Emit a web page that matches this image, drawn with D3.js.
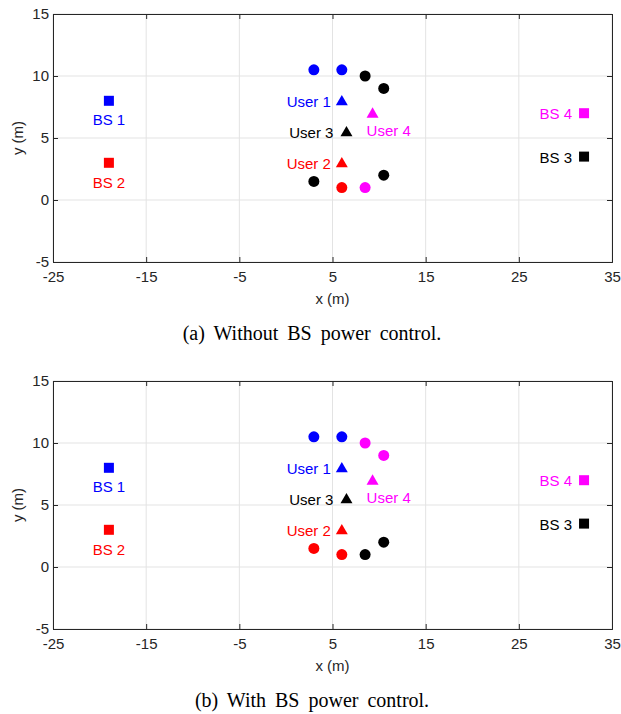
<!DOCTYPE html>
<html><head><meta charset="utf-8">
<script src="https://cdn.jsdelivr.net/npm/d3@7"></script>
<style>body{margin:0;background:#fff}</style>
</head><body>
<svg id="c" width="621" height="714"></svg>
<script>
const xTicks = [-25, -15, -5, 5, 15, 25, 35];
const yTicks = [-5, 0, 5, 10, 15];
const captions = ["(a) Without BS power control.", "(b) With BS power control."];
const colors = {blue: "#0000ff", red: "#ff0000", black: "#000000", magenta: "#ff00ff"};

// Base stations
const bsNames = ["BS 1", "BS 2", "BS 3", "BS 4"];
const bsX = [-19, -19, 32, 32];
const bsY = [8, 3, 3.5, 7];
const bsColor = ["blue", "red", "black", "magenta"];

// Users (triangles)
const userNames = ["User 1", "User 2", "User 3", "User 4"];
const userX = [6, 6, 6.5, 9.3];
const userY = [8, 3, 5.5, 7];
const userColor = ["blue", "red", "black", "magenta"];

// Circles
const apX = [3, 6, 8.5, 10.5, 3, 6, 8.5, 10.5];
const apY = [10.5, 10.5, 10, 9, 1.5, 1, 1, 2];
const apColorA = ["blue", "blue", "black", "black", "black", "red", "magenta", "black"];
const apColorB = ["blue", "blue", "magenta", "magenta", "red", "red", "black", "black"];

const svg = d3.select("#c");
const panels = [
  {top: 14, apColor: apColorA, caption: captions[0]},
  {top: 381, apColor: apColorB, caption: captions[1]}
];
const left = 53, right = 612, ph = 248;
const font = "Liberation Sans, Arial, sans-serif";

panels.forEach(p => {
  const x = d3.scaleLinear().domain([-25, 35]).range([left, right]);
  const y = d3.scaleLinear().domain([-5, 15]).range([p.top + ph, p.top]);
  const g = svg.append("g");
  g.selectAll(".gx").data(xTicks).join("line")
    .attr("x1", d => x(d)).attr("x2", d => x(d)).attr("y1", y(-5)).attr("y2", y(15))
    .attr("stroke", "#e3e3e3").attr("stroke-width", 1);
  g.selectAll(".gy").data(yTicks).join("line")
    .attr("y1", d => y(d)).attr("y2", d => y(d)).attr("x1", x(-25)).attr("x2", x(35))
    .attr("stroke", "#e3e3e3").attr("stroke-width", 1);
  const fmt = d => String(d);
  const ax = g.append("g").attr("transform", `translate(0,${y(-5)})`)
    .call(d3.axisBottom(x).tickValues(xTicks).tickSize(-5).tickPadding(9).tickFormat(fmt));
  const axT = g.append("g").attr("transform", `translate(0,${y(15)})`)
    .call(d3.axisTop(x).tickValues(xTicks).tickSize(-5).tickFormat(""));
  const ay = g.append("g").attr("transform", `translate(${x(-25)},0)`)
    .call(d3.axisLeft(y).tickValues(yTicks).tickSize(-5).tickPadding(4).tickFormat(fmt));
  const ayR = g.append("g").attr("transform", `translate(${x(35)},0)`)
    .call(d3.axisRight(y).tickValues(yTicks).tickSize(-5).tickFormat(""));
  [ax, axT, ay, ayR].forEach(a => {
    a.select(".domain").attr("stroke", "#262626").attr("stroke-width", 1);
    a.selectAll(".tick line").attr("stroke", "#262626");
    a.selectAll("text").attr("font-family", font)
      .attr("font-size", 15).attr("fill", "#262626");
  });
  ax.selectAll("text").attr("dy", "0.7em");
  ay.selectAll("text").attr("dy", "0.28em");
  g.append("text").attr("x", x(5)).attr("y", y(-5) + 42).attr("text-anchor", "middle")
    .attr("font-family", font).attr("font-size", 15).attr("fill", "#262626")
    .text("x (m)");
  g.append("text").attr("transform", `translate(${x(-25) - 30},${y(5)}) rotate(-90)`)
    .attr("text-anchor", "middle")
    .attr("font-family", font).attr("font-size", 15).attr("fill", "#262626")
    .text("y (m)");
  g.append("text").attr("x", 312).attr("y", y(-5) + 78).attr("text-anchor", "middle")
    .attr("font-family", "Liberation Serif, Times New Roman, serif").attr("font-size", 20)
    .attr("word-spacing", 4).attr("fill", "#000")
    .text(p.caption);

  g.selectAll(".ap").data(apX.map((v, i) => i)).join("circle")
    .attr("cx", i => x(apX[i])).attr("cy", i => y(apY[i])).attr("r", 5.5)
    .attr("fill", i => colors[p.apColor[i]]);
  const sq = 10;
  g.selectAll(".bs").data(bsX.map((v, i) => i)).join("rect")
    .attr("x", i => x(bsX[i]) - sq / 2).attr("y", i => y(bsY[i]) - sq / 2)
    .attr("width", sq).attr("height", sq)
    .attr("fill", i => colors[bsColor[i]]);
  const tri = d3.symbol().type(d3.symbolTriangle).size(62);
  g.selectAll(".us").data(userX.map((v, i) => i)).join("path")
    .attr("d", tri)
    .attr("transform", i => `translate(${x(userX[i])},${y(userY[i]) + 1})`)
    .attr("fill", i => colors[userColor[i]]);

  const bsLab = [
    {i: 0, dx: 0, dy: 24, anchor: "middle"},
    {i: 1, dx: 0, dy: 25, anchor: "middle"},
    {i: 2, dx: -12, dy: 6, anchor: "end"},
    {i: 3, dx: -12, dy: 6, anchor: "end"}
  ];
  bsLab.forEach(l => {
    g.append("text").attr("x", x(bsX[l.i]) + l.dx).attr("y", y(bsY[l.i]) + l.dy)
      .attr("text-anchor", l.anchor).attr("font-family", font).attr("font-size", 15)
      .attr("fill", colors[bsColor[l.i]]).text(bsNames[l.i]);
  });
  const usLab = [
    {i: 0, dx: -11, dy: 6, anchor: "end"},
    {i: 1, dx: -11, dy: 6, anchor: "end"},
    {i: 2, dx: -13, dy: 6, anchor: "end"},
    {i: 3, dx: -6, dy: 23, anchor: "start"}
  ];
  usLab.forEach(l => {
    g.append("text").attr("x", x(userX[l.i]) + l.dx).attr("y", y(userY[l.i]) + l.dy)
      .attr("text-anchor", l.anchor).attr("font-family", font).attr("font-size", 15)
      .attr("fill", colors[userColor[l.i]]).text(userNames[l.i]);
  });
});
</script>
</body></html>
